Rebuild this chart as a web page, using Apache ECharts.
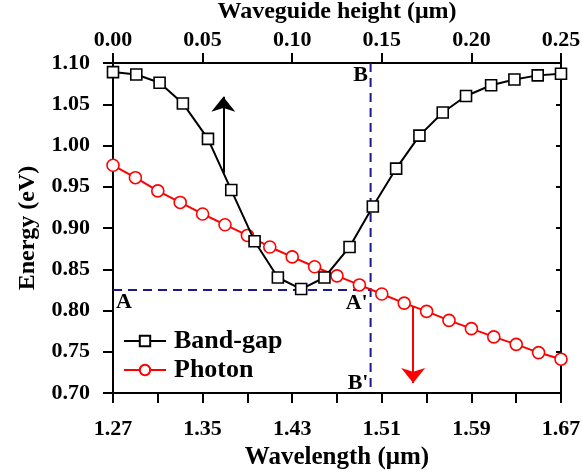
<!DOCTYPE html>
<html><head><meta charset="utf-8">
<script src="https://cdn.jsdelivr.net/npm/echarts@6/dist/echarts.min.js"></script>
<style>html,body{margin:0;padding:0;background:#fff}#c{width:582px;height:475px}</style>
</head><body><div id="c"></div>
<script>
// ---- data ----
var wavelengthTicks = ['1.27','1.35','1.43','1.51','1.59','1.67'];
var heightTicks = ['0.00','0.05','0.10','0.15','0.20','0.25'];
var energyTicks = ['0.70','0.75','0.80','0.85','0.90','0.95','1.00','1.05','1.10'];

var bandgapHeight = [0, 0.013, 0.026, 0.039, 0.053, 0.066, 0.079, 0.092, 0.105, 0.118,
                     0.132, 0.145, 0.158, 0.171, 0.184, 0.197, 0.211, 0.224, 0.237, 0.25];
var bandgapEnergy = [1.089, 1.086, 1.076, 1.051, 1.008, 0.946, 0.884, 0.840, 0.826, 0.840,
                     0.877, 0.926, 0.972, 1.012, 1.040, 1.060, 1.073, 1.080, 1.085, 1.087];

var photonWavelength = [1.27, 1.29, 1.31, 1.33, 1.35, 1.37, 1.39, 1.41, 1.43, 1.45, 1.47,
                        1.49, 1.51, 1.53, 1.55, 1.57, 1.59, 1.61, 1.63, 1.65, 1.67];
var photonEnergy = [0.976, 0.961, 0.945, 0.931, 0.917, 0.904, 0.891, 0.877, 0.865, 0.853, 0.842,
                    0.831, 0.820, 0.809, 0.799, 0.788, 0.778, 0.768, 0.759, 0.749, 0.741];

// reference guides (wavelength, energy)
var guideH = [[1.27, 0.825], [1.50, 0.825]];
var guideV = [[1.50, 1.10], [1.50, 0.70]];
var annotations = [
  {name: 'A',  at: [1.2798, 0.8097]},
  {name: "A'", at: [1.4876, 0.8091]},
  {name: 'B',  at: [1.4910, 1.0848]},
  {name: "B'", at: [1.4888, 0.7115]}
];
var arrowUp = [[1.3685, 0.967], [1.3685, 1.059]];
var arrowDown = [[1.538, 0.805], [1.538, 0.712]];

// ---- chart ----
var FONT = '"Liberation Serif","Times New Roman",serif';
var chart = echarts.init(document.getElementById('c'), null, {renderer: 'canvas'});
function lab(arr, min, step) {
  return function (v) { var i = Math.round((v - min) / step); return arr[i] !== undefined ? arr[i] : ''; };
}
function txt(size) { return {color: '#000', fontFamily: FONT, fontWeight: 'bold', fontSize: size}; }
var axisLine = {show: true, onZero: false, lineStyle: {color: '#000', width: 2}};
var tickStyle = {color: '#000', width: 2};

chart.setOption({
  animation: false,
  backgroundColor: '#fff',
  grid: {left: 113, right: 21, top: 63, bottom: 82, containLabel: false, outerBoundsMode: 'none'},
  legend: {
    orient: 'vertical', left: 118, top: 323, itemWidth: 42, itemHeight: 13, itemGap: 3,
    data: ['Band-gap', 'Photon'],
    textStyle: Object.assign({padding: [0, 0, 0, 3]}, txt(26))
  },
  xAxis: [
    {type: 'value', position: 'bottom', min: 1.27, max: 1.67, interval: 0.08,
     name: 'Wavelength (\u03bcm)', nameLocation: 'middle', nameGap: 46, nameTextStyle: txt(25),
     axisLine: axisLine, axisTick: {show: true, inside: false, length: 10, lineStyle: tickStyle},
     minorTick: {show: true, splitNumber: 2, length: 10, lineStyle: tickStyle},
     axisLabel: Object.assign({margin: 25, formatter: lab(wavelengthTicks, 1.27, 0.08)}, txt(22)),
     splitLine: {show: false}},
    {type: 'value', position: 'top', min: 0, max: 0.25, interval: 0.05,
     name: 'Waveguide height (\u03bcm)', nameLocation: 'middle', nameGap: 38, nameTextStyle: txt(24),
     axisLine: axisLine, axisTick: {show: true, inside: false, length: 10, lineStyle: tickStyle},
     axisLabel: Object.assign({margin: 12, formatter: lab(heightTicks, 0, 0.05)}, txt(22)),
     splitLine: {show: false}}
  ],
  yAxis: [
    {type: 'value', position: 'left', min: 0.70, max: 1.10, interval: 0.05,
     name: 'Energy (eV)', nameLocation: 'middle', nameGap: 73, nameTextStyle: txt(24),
     axisLine: axisLine, axisTick: {show: true, inside: false, length: 10, lineStyle: tickStyle},
     axisLabel: Object.assign({margin: 23, formatter: lab(energyTicks, 0.70, 0.05)}, txt(22)),
     splitLine: {show: false}},
    {type: 'value', position: 'right', min: 0.70, max: 1.10, interval: 0.05,
     axisLine: axisLine, axisTick: {show: true, inside: true, length: 5, lineStyle: tickStyle},
     axisLabel: {show: false}, splitLine: {show: false}}
  ],
  series: [
    {name: 'guideH', type: 'line', xAxisIndex: 0, yAxisIndex: 0, data: guideH, symbol: 'none',
     lineStyle: {color: '#1a1a8c', width: 2, type: [9, 6]}, silent: true, z: 1},
    {name: 'guideV', type: 'line', xAxisIndex: 0, yAxisIndex: 0, data: guideV, symbol: 'none',
     lineStyle: {color: '#1a1a8c', width: 2, type: [9, 6]}, silent: true, z: 1},
    {name: 'Photon', type: 'line', xAxisIndex: 0, yAxisIndex: 0,
     data: photonWavelength.map(function (x, i) { return [x, photonEnergy[i]]; }),
     symbol: 'circle', symbolSize: 12, showAllSymbol: true,
     itemStyle: {color: '#fff', borderColor: '#ff0000', borderWidth: 1.6},
     lineStyle: {color: '#ff0000', width: 2}, z: 3},
    {name: 'Band-gap', type: 'line', xAxisIndex: 1, yAxisIndex: 0,
     data: bandgapHeight.map(function (x, i) { return [x, bandgapEnergy[i]]; }),
     symbol: 'rect', symbolSize: 11, showAllSymbol: true,
     itemStyle: {color: '#fff', borderColor: '#000', borderWidth: 1.6},
     lineStyle: {color: '#000', width: 2}, z: 4},
    {name: 'labels', type: 'scatter', xAxisIndex: 0, yAxisIndex: 0, symbolSize: 0, silent: true, z: 7,
     data: annotations.map(function (a) { return {name: a.name, value: a.at}; }),
     label: Object.assign({show: true, position: 'inside', formatter: '{b}', opacity: 1}, txt(22))},
    {name: 'arrows', type: 'line', xAxisIndex: 0, yAxisIndex: 0, data: [], silent: true, z: 6,
     markLine: {silent: true, symbol: ['none', 'arrow'], symbolSize: [18, 15], label: {show: false},
       animation: false,
       data: [
         [{coord: arrowUp[0], lineStyle: {color: '#000', width: 2, type: 'solid'}, itemStyle: {color: '#000'}},
          {coord: arrowUp[1]}],
         [{coord: arrowDown[0], lineStyle: {color: '#ff0000', width: 2, type: 'solid'}, itemStyle: {color: '#ff0000'}},
          {coord: arrowDown[1]}]
       ]}}
  ]
});
</script></body></html>
